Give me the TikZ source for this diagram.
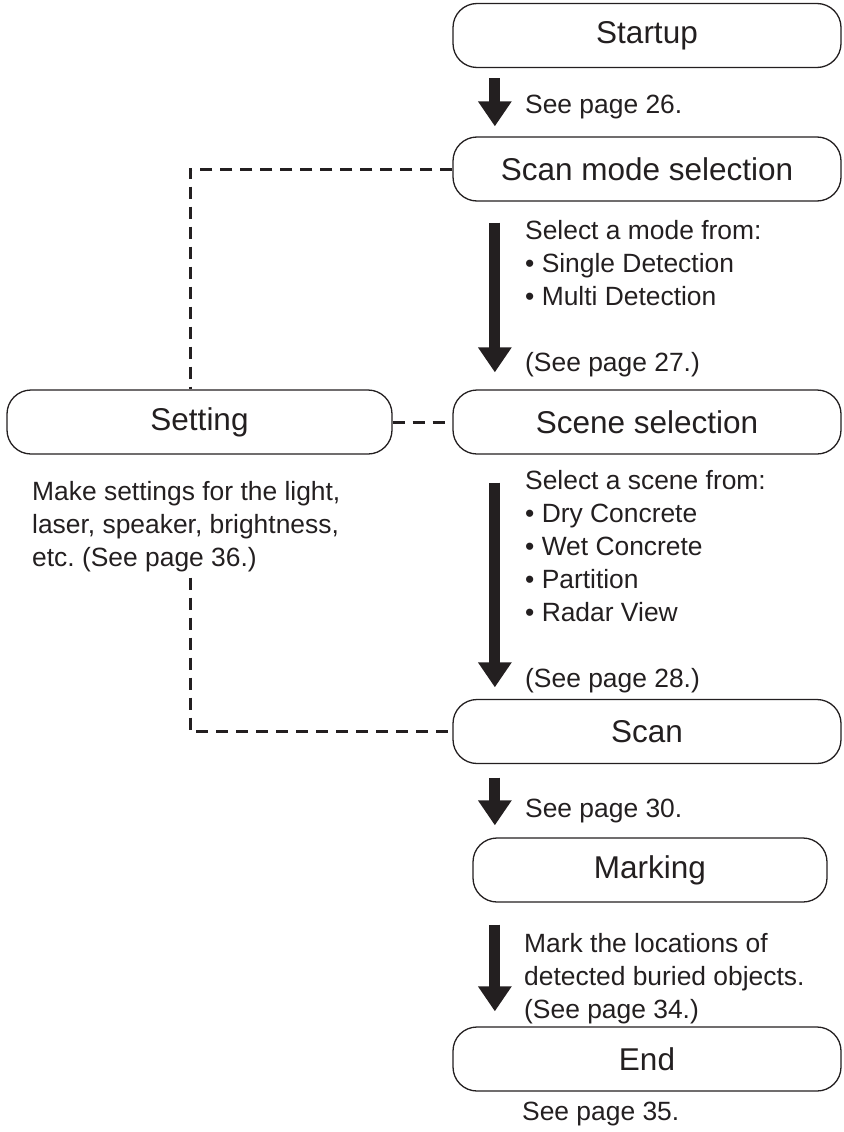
\documentclass[tikz,border=0pt]{standalone}
\usepackage{fontspec}
\setmainfont{Liberation Sans}
\usetikzlibrary{arrows.meta}
\definecolor{ink}{RGB}{35,31,32}

\begin{document}
\begin{tikzpicture}[x=1pt, y=-1pt, ink,
  box/.style={draw=ink, line width=1.3pt, rounded corners=24pt, minimum height=64pt, inner sep=0pt, font=\fontsize{31.5}{36}\selectfont},
  flow/.style={line width=11pt, -{Triangle[width=32pt,length=25pt]}},
  dline/.style={line width=3pt, dash pattern=on 12pt off 8pt},
  note/.style={inner sep=0pt, align=left, anchor=north west, font=\fontsize{26.4}{33}\selectfont}]
\useasboundingbox (0,0) rectangle (843,1132);

% Steps
\node[box, minimum width=388pt] (startup) at (647,35.5) {Startup};
\node[box, minimum width=388pt] (scanmode) at (647,169) {Scan mode selection};
\node[box, minimum width=388pt] (scene) at (647,422) {Scene selection};
\node[box, minimum width=385pt] (setting) at (199.5,422) {Setting};
\node[box, minimum width=388pt] (scan) at (647,731.5) {Scan};
\node[box, minimum width=354pt] (marking) at (650,870) {Marking};
\node[box, minimum width=388pt] (stop) at (647,1059) {End};

% Notes
\node[note, anchor=base west] (p26) at (525,113) {See page 26.};
\node[note] (modes) at (525,220.5) {Select a mode from:\\ • Single Detection\\ • Multi Detection\\[33pt] (See page 27.)};
\node[note] (scenes) at (525,470.5) {Select a scene from:\\ • Dry Concrete\\ • Wet Concrete\\ • Partition\\ • Radar View\\[33pt] (See page 28.)};
\node[note] (setnote) at (32,481.5) {Make settings for the light,\\ laser, speaker, brightness,\\ etc.\ (See page 36.)};
\node[note, anchor=base west] (p30) at (525,817) {See page 30.};
\node[note] (marknote) at (524,933.5) {Mark the locations of\\ detected buried objects.\\ (See page 34.)};
\node[note, anchor=base west] (p35) at (522,1120) {See page 35.};

% Main flow
\draw[flow] ([xshift=42.5pt,yshift=-10pt]startup.south west) -- ([xshift=42.5pt,yshift=10pt]scanmode.north west);
\draw[flow] ([xshift=42.5pt,yshift=-21pt]scanmode.south west) -- ([xshift=42.5pt,yshift=17pt]scene.north west);
\draw[flow] ([xshift=42.5pt,yshift=-28pt]scene.south west) -- ([xshift=42.5pt,yshift=11.5pt]scan.north west);
\draw[flow] ([xshift=42.5pt,yshift=-13.5pt]scan.south west) -- ([xshift=22.5pt,yshift=12pt]marking.north west);
\draw[flow] ([xshift=22.5pt,yshift=-22pt]marking.south west) -- ([xshift=42.5pt,yshift=15pt]stop.north west);

% Setting links
\draw[dline] (scanmode.west) -| ([xshift=-9.5pt]setting.north);
\draw[dline] (setting.east) -- (scene.west);
\draw[dline] ([xshift=-9.5pt,yshift=-5pt]setting.south |- setnote.south) |- (scan.west);

\end{tikzpicture}
\end{document}
